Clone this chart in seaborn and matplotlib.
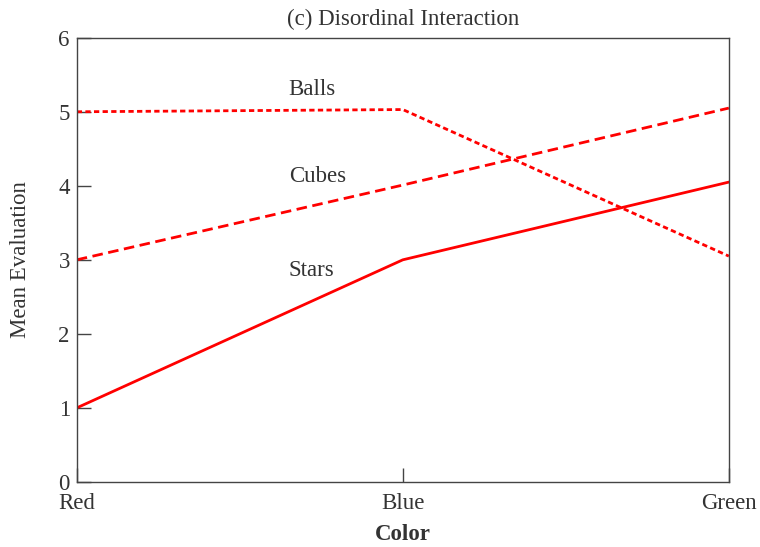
import matplotlib
matplotlib.use("Agg")
import matplotlib.pyplot as plt
import seaborn as sns
import pandas as pd

colors = ["Red", "Blue", "Green"]
balls = [5.0, 5.03, 3.05]
cubes = [3.0, 4.01, 5.05]
stars = [1.0, 3.0, 4.05]
series_names = ["Balls", "Cubes", "Stars"]
label_pos = {"Balls": (0.65, 5.3), "Cubes": (0.65, 4.12), "Stars": (0.65, 2.86)}

sns.set_theme(style="white")
plt.rcParams["font.family"] = ["Liberation Serif", "DejaVu Serif"]

rows = []
for name, vals in zip(series_names, [balls, cubes, stars]):
    for i, (c, v) in enumerate(zip(colors, vals)):
        rows.append({"x": i, "Color": c, "Mean": v, "Shape": name})
df = pd.DataFrame(rows)

fig = plt.figure(figsize=(7.6, 5.47), dpi=100)
ax = fig.add_axes([0.101, 0.119, 0.858, 0.812])

sns.lineplot(data=df, x="x", y="Mean", style="Shape",
             dashes={"Balls": (1.9, 1.2), "Cubes": (3.8, 2.0), "Stars": ""},
             color="#ff0000", linewidth=2.0, legend=False, ax=ax)

ax.set_xlim(0, 2)
ax.set_ylim(0, 6)
ax.set_xticks(range(len(colors)))
ax.set_xticklabels(colors)
ax.set_yticks(range(0, 7))

tc = "#333333"
fs = 16.5
for s in ax.spines.values():
    s.set_color("#444444")
    s.set_linewidth(1.0)
ax.tick_params(axis="both", direction="in", colors="#444444", labelcolor=tc,
               labelsize=fs, length=10, width=1.0, bottom=True, left=True)
ax.tick_params(axis="y", pad=5)
ax.tick_params(axis="x", pad=8)

ax.set_xlabel("Color", fontsize=fs, fontweight="bold", color=tc, labelpad=7)
ax.set_ylabel("Mean Evaluation", fontsize=fs, color=tc, labelpad=20)
ax.set_title("(c) Disordinal Interaction", fontsize=fs, color=tc, pad=9)

for name in series_names:
    x, y = label_pos[name]
    ax.text(x, y, name, fontsize=fs, color=tc, ha="left", va="center")

fig.savefig("out.png", dpi=100)
